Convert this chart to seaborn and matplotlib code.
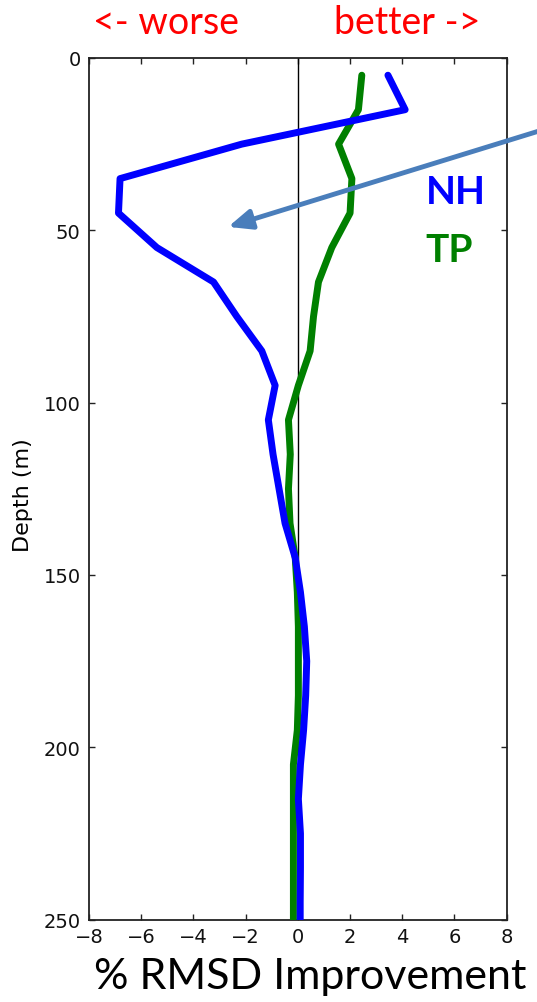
import numpy as np
import pandas as pd
import matplotlib
matplotlib.use("Agg")
import matplotlib.pyplot as plt
import seaborn as sns

# Depth levels (m) and percent RMSD improvement for each region
depth = [5, 15, 25, 35, 45, 55, 65, 75, 85, 95, 105, 115, 125,
         135, 145, 155, 165, 175, 185, 195, 205, 215, 225, 235, 245, 255]
nh = [3.45, 4.11, -2.15, -6.81, -6.87, -5.40, -3.23, -2.34, -1.38, -0.87,
      -1.13, -0.95, -0.72, -0.49, -0.10, 0.10, 0.25, 0.34, 0.30, 0.22,
      0.10, 0.02, 0.10, 0.10, 0.09, 0.09]
tp = [2.45, 2.32, 1.56, 2.07, 2.00, 1.30, 0.79, 0.60, 0.47, 0.02,
      -0.36, -0.29, -0.36, -0.30, -0.10, -0.02, 0.02, 0.02, 0.02, -0.02,
      -0.17, -0.17, -0.17, -0.17, -0.17, -0.17]

x_ticks = [-8, -6, -4, -2, 0, 2, 4, 6, 8]
y_ticks = [0, 50, 100, 150, 200, 250]

sns.set_style("ticks", {
    "xtick.direction": "in",
    "ytick.direction": "in",
    "axes.edgecolor": "#222222",
})
plt.rcParams["font.family"] = ["DejaVu Sans"]

df = pd.DataFrame({"depth": depth, "NH": nh, "TP": tp})

fig = plt.figure(figsize=(5.37, 10.03), dpi=100)
ax = fig.add_axes([0.1657, 0.0821, 0.9436 - 0.1657, 0.9412 - 0.0821])

ax.axvline(0, color="black", lw=1.0, zorder=1)
sns.lineplot(data=df, x="TP", y="depth", orient="y", sort=False,
             color="#008000", lw=5, ax=ax, zorder=3)
sns.lineplot(data=df, x="NH", y="depth", orient="y", sort=False,
             color="#0000ff", lw=5, ax=ax, zorder=4)

ax.set_xlim(-8, 8)
ax.set_ylim(250, 0)
ax.set_xticks(x_ticks)
ax.set_yticks(y_ticks)
ax.tick_params(axis="both", which="both", direction="in", top=True,
               right=True, length=4.5, width=1, labelsize=14,
               color="#222222", labelcolor="#111111")
ax.tick_params(axis="y", pad=6)
ax.tick_params(axis="x", pad=5)
ax.set_xlabel("")
ax.set_ylabel("Depth (m)", fontsize=16, color="black")
ax.yaxis.set_label_coords(-0.135, 0.494)
for s in ax.spines.values():
    s.set_linewidth(1.3)
    s.set_color("#222222")

# Arrow pointing into the NH minimum
ax.annotate("", xy=(-2.67, 49), xycoords="data",
            xytext=(552, 1003 - 128), textcoords="figure pixels",
            arrowprops=dict(arrowstyle="-|>,head_length=0.7,head_width=0.3",
                            mutation_scale=20, color="#4a7ebb", lw=3.5,
                            shrinkA=0, shrinkB=0),
            annotation_clip=False, zorder=5)

fig.text(456 / 537, 1 - 193 / 1003, "NH", color="#0000ff", fontsize=28,
         fontweight="bold", family="Lato", ha="center", va="center")
fig.text(449 / 537, 1 - 251 / 1003, "TP", color="#008000", fontsize=28,
         fontweight="bold", family="Lato", ha="center", va="center")

fig.text(166 / 537, 1 - 23 / 1003, "<- worse", color="red", fontsize=27,
         family="Lato", ha="center", va="center")
fig.text(407 / 537, 1 - 23 / 1003, "better ->", color="red", fontsize=27,
         family="Lato", ha="center", va="center")
fig.text(310 / 537, 1 - 977 / 1003, "% RMSD Improvement", color="black",
         fontsize=31, family="Lato", ha="center", va="center")

fig.savefig("out.png", dpi=100)
